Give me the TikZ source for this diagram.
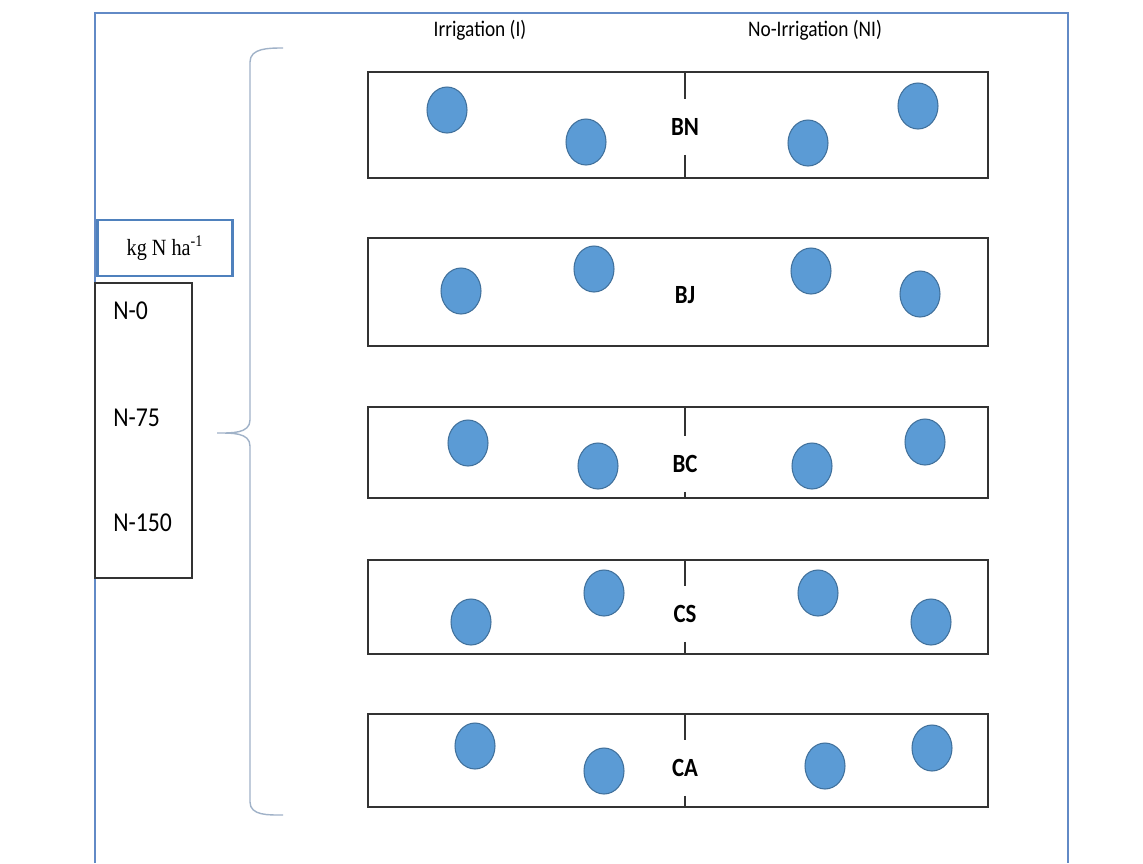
\documentclass[tikz,border=0pt]{standalone}
\usepackage{fontspec}
\setmainfont{Carlito}
\newfontfamily\timesfont{Liberation Serif}
\usepackage{graphicx}
\usepackage{tikz}
\usetikzlibrary{shapes.geometric}
\usepackage{xcolor}
\definecolor{frameblue}{RGB}{98,138,198}
\definecolor{boxblue}{RGB}{79,129,189}
\definecolor{plantfill}{RGB}{91,155,213}
\definecolor{plantedge}{RGB}{65,113,156}
\definecolor{bracegrey}{RGB}{160,178,200}
\newcommand{\tall}[1]{\scalebox{1}[1.15]{#1}}
\tikzstyle{plot}=[
        draw = black!80,
        line width = 0.7pt,
        minimum width = 12.4cm,
        inner sep = 0pt,
        rectangle
    ]
\tikzstyle{plant}=[
        draw = plantedge,
        fill = plantfill,
        line width = 0.6pt,
        minimum width = 0.8cm,
        minimum height = 0.92cm,
        inner sep = 0pt,
        ellipse
    ]

\begin{document}
\begin{tikzpicture}[x=0.02cm, y=-0.02cm, crop/.style = {font=\fontsize{13}{15}\selectfont\bfseries, minimum height=1.1cm, inner sep=0pt}, level/.style = {font=\fontsize{13.5}{16}\selectfont, anchor=west, inner sep=0pt}, head/.style = {font=\fontsize{11}{13}\selectfont, inner sep=0pt}]
        \useasboundingbox (0,0) rectangle (1143,863);
        \fill[white] (0,0) rectangle (1143,863);
        \draw[frameblue, line width=1.2pt] (95,863) -- (95,13) -- (1068,13) -- (1068,863);

        \node[head] (irr) at (480,30) {\tall{Irrigation (I)}};
        \node[head] (noirr) at (815,30) {\tall{No-Irrigation (NI)}};

        \node[draw=boxblue, line width=1.2pt, minimum width=2.7cm, minimum height=1.12cm, inner sep=0pt, font=\timesfont\fontsize{11.5}{13}\selectfont] (unit) at (165,248) {\tall{kg N ha\textsuperscript{-1}}};
        \node[draw=black!80, line width=0.7pt, minimum width=1.94cm, minimum height=5.9cm, inner sep=0pt] (rates) at (143.5,430.5) {};
        \node[level] (n0) at (113,311) {\tall{N-0}};
        \node[level] (n75) at (113,418) {\tall{N-75}};
        \node[level] (n150) at (113,523) {\tall{N-150}};

        \draw[bracegrey, line width=0.8pt] (283,48) to[out=180,in=90] (250,62) -- (250,420) to[out=-90,in=0] (217,433) to[out=0,in=90] (250,446) -- (250,802) to[out=-90,in=180] (283,815);

        \node[plot, minimum height=2.12cm] (bn) at (678,125) {};
        \node[plot, minimum height=2.16cm] (bj) at (678,292) {};
        \node[plot, minimum height=1.82cm] (bc) at (678,452.5) {};
        \node[plot, minimum height=1.88cm] (cs) at (678,607) {};
        \node[plot, minimum height=1.86cm] (ca) at (678,760.5) {};

        \node[crop] (bnlab) at (685,127) {\tall{BN}};
        \node[crop] (bjlab) at (685,295) {\tall{BJ}};
        \node[crop] (bclab) at (685,464) {\tall{BC}};
        \node[crop] (cslab) at (685,614) {\tall{CS}};
        \node[crop] (calab) at (685,768) {\tall{CA}};

        \draw[black!80, line width=0.7pt] (bn.north -| bnlab) -- (bnlab.north);
        \draw[black!80, line width=0.7pt] (bnlab.south) -- (bn.south -| bnlab);
        \draw[black!80, line width=0.7pt] (bc.north -| bclab) -- (bclab.north);
        \draw[black!80, line width=0.7pt] (bclab.south) -- (bc.south -| bclab);
        \draw[black!80, line width=0.7pt] (cs.north -| cslab) -- (cslab.north);
        \draw[black!80, line width=0.7pt] (cslab.south) -- (cs.south -| cslab);
        \draw[black!80, line width=0.7pt] (ca.north -| calab) -- (calab.north);
        \draw[black!80, line width=0.7pt] (calab.south) -- (ca.south -| calab);

        \node[plant] (bn1) at (447,110) {};
        \node[plant] (bn2) at (586,142) {};
        \node[plant] (bn3) at (808,143) {};
        \node[plant] (bn4) at (918,106) {};

        \node[plant] (bj1) at (461,291) {};
        \node[plant] (bj2) at (594,269) {};
        \node[plant] (bj3) at (811,271) {};
        \node[plant] (bj4) at (920,294) {};

        \node[plant] (bc1) at (468,443) {};
        \node[plant] (bc2) at (598,466) {};
        \node[plant] (bc3) at (812,466) {};
        \node[plant] (bc4) at (925,442) {};

        \node[plant] (cs1) at (471,622) {};
        \node[plant] (cs2) at (604,593) {};
        \node[plant] (cs3) at (818,593) {};
        \node[plant] (cs4) at (931,622) {};

        \node[plant] (ca1) at (475,746) {};
        \node[plant] (ca2) at (604,771) {};
        \node[plant] (ca3) at (825,766) {};
        \node[plant] (ca4) at (932,748) {};
    \end{tikzpicture}
\end{document}
